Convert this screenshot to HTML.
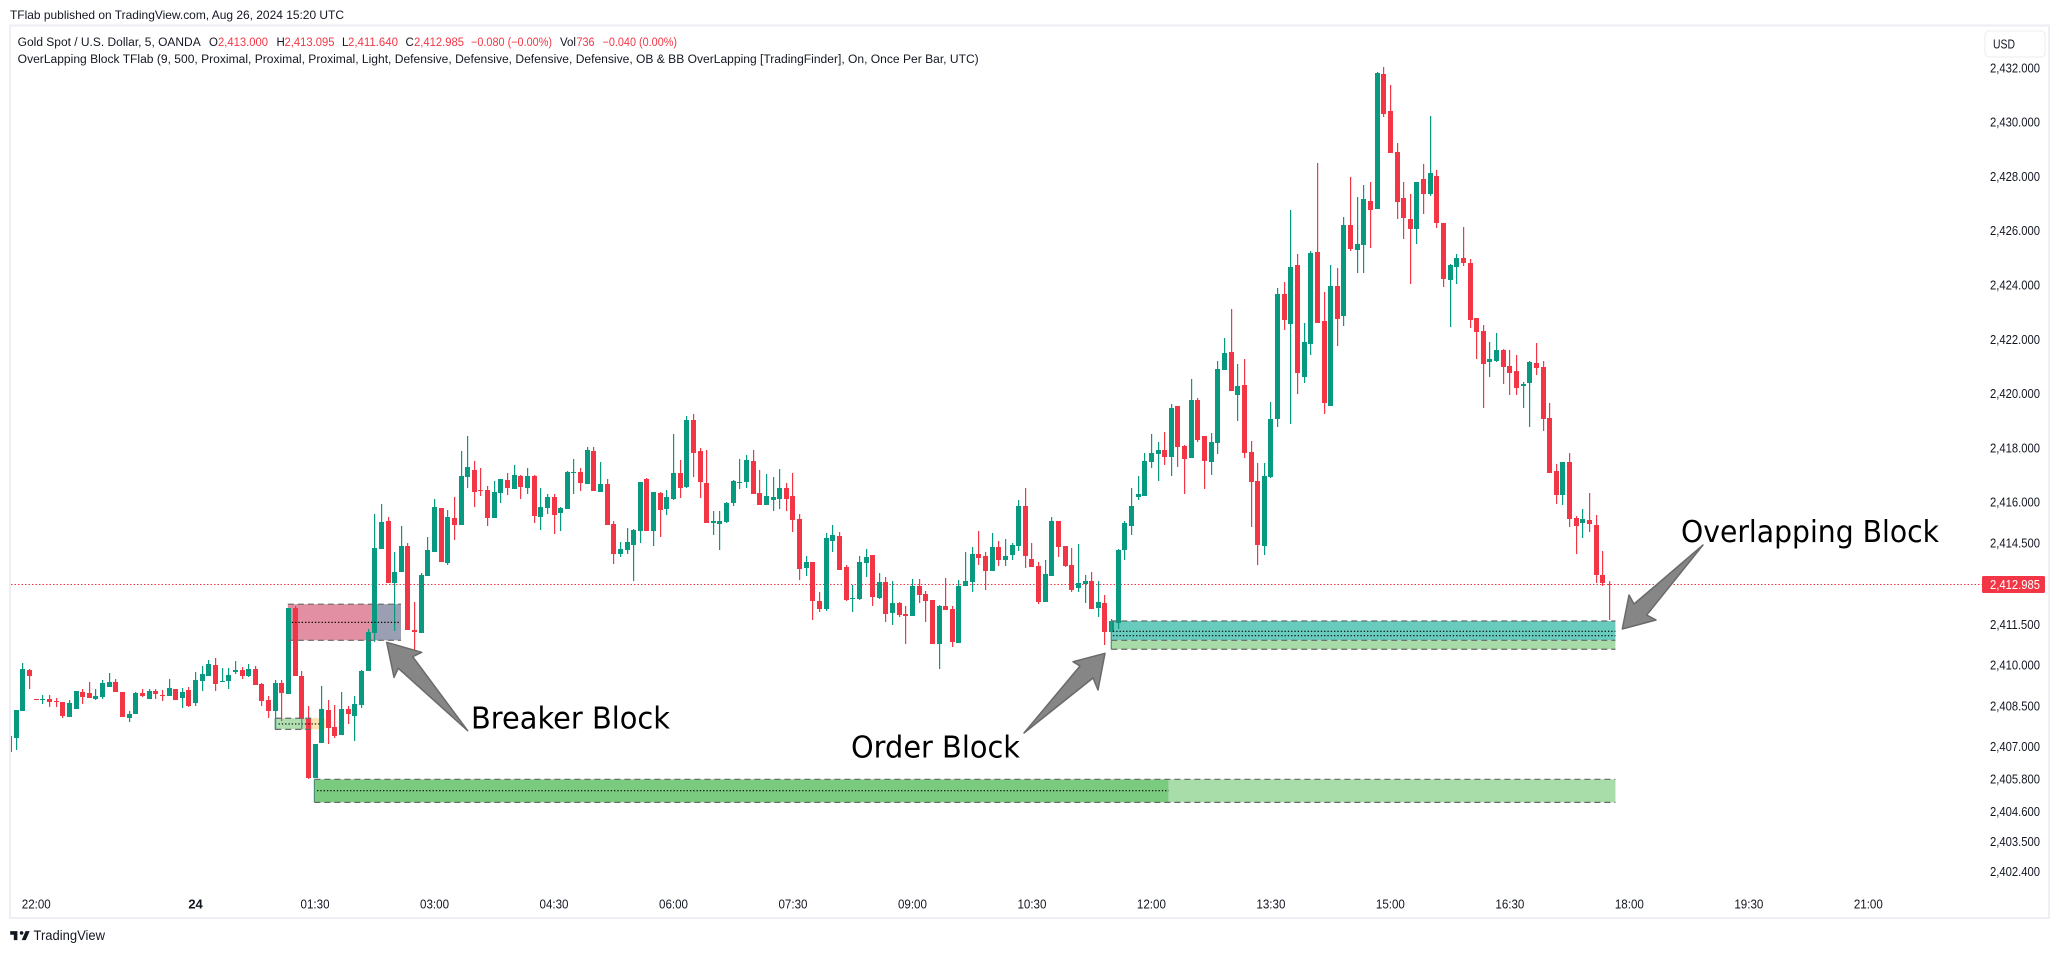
<!DOCTYPE html>
<html lang="en">
<head>
<meta charset="utf-8">
<title>Gold Spot 5m OverLapping Block chart</title>
<style>
html,body{margin:0;padding:0;background:#fff;width:2059px;height:953px;overflow:hidden}
svg{display:block}
text{font-family:"Liberation Sans",sans-serif;fill:#131722}
text.note{font-family:"DejaVu Sans","Liberation Sans",sans-serif;fill:#000000}
</style>
</head>
<body>
<svg id="chart" xmlns="http://www.w3.org/2000/svg" width="2059" height="953" viewBox="0 0 2059 953">
  <defs><clipPath id="plot-clip"><rect x="11" y="27" width="2037" height="890"/></clipPath></defs>
  <rect x="0" y="0" width="2059" height="953" fill="#ffffff"/>
  <rect x="10" y="25.5" width="2039" height="892.5" fill="#ffffff" stroke="#eeeef4" stroke-width="2"/>
  <text x="10" y="19" font-size="12" textLength="334" lengthAdjust="spacingAndGlyphs">TFlab published on TradingView.com, Aug 26, 2024 15:20 UTC</text>

  <g id="zones"></g>
  <line x1="11" y1="584.5" x2="1982" y2="584.5" stroke="#f23645" stroke-width="1" stroke-dasharray="1.5 2"/>
  <g id="candles" clip-path="url(#plot-clip)"></g>
  <g id="zone-lines"></g>

  <g font-size="11.5">
    <text x="17.7" y="46" font-size="11.5" textLength="183" lengthAdjust="spacingAndGlyphs">Gold Spot / U.S. Dollar, 5, OANDA</text>
    <text x="209" y="46" font-size="11.5">O</text>
    <text x="218" y="46" font-size="11.5" style="fill:#f23645" textLength="50" lengthAdjust="spacingAndGlyphs">2,413.000</text>
    <text x="276.5" y="46" font-size="11.5">H</text>
    <text x="284.5" y="46" font-size="11.5" style="fill:#f23645" textLength="50" lengthAdjust="spacingAndGlyphs">2,413.095</text>
    <text x="342" y="46" font-size="11.5">L</text>
    <text x="348" y="46" font-size="11.5" style="fill:#f23645" textLength="50" lengthAdjust="spacingAndGlyphs">2,411.640</text>
    <text x="405.5" y="46" font-size="11.5">C</text>
    <text x="414" y="46" font-size="11.5" style="fill:#f23645" textLength="50" lengthAdjust="spacingAndGlyphs">2,412.985</text>
    <text x="471" y="46" font-size="11.5" style="fill:#f23645" textLength="81" lengthAdjust="spacingAndGlyphs">−0.080 (−0.00%)</text>
    <text x="560" y="46" font-size="11.5" textLength="16" lengthAdjust="spacingAndGlyphs">Vol</text>
    <text x="576.5" y="46" font-size="11.5" style="fill:#f23645" textLength="18" lengthAdjust="spacingAndGlyphs">736</text>
    <text x="602.5" y="46" font-size="11.5" style="fill:#f23645" textLength="74.5" lengthAdjust="spacingAndGlyphs">−0.040 (0.00%)</text>
    <text x="17.7" y="63" font-size="11.5" textLength="961" lengthAdjust="spacingAndGlyphs">OverLapping Block TFlab (9, 500, Proximal, Proximal, Proximal, Light, Defensive, Defensive, Defensive, Defensive, OB &amp; BB OverLapping [TradingFinder], On, Once Per Bar, UTC)</text>
  </g>

  <g>
    <rect x="1985" y="31" width="60" height="26" rx="4" fill="#ffffff" stroke="#ececf1" stroke-width="1"/>
    <text x="1993" y="48.5" font-size="13" textLength="22" lengthAdjust="spacingAndGlyphs">USD</text>
  </g>

  <g id="y-axis"></g>
  <g id="x-axis"></g>

  <g>
    <rect x="1982" y="576" width="63" height="17" rx="1.5" fill="#f23645"/>
    <text x="1990" y="589" font-size="13" style="fill:#ffffff" textLength="50" lengthAdjust="spacingAndGlyphs">2,412.985</text>
  </g>

  <g>
    <polygon points="386.7,642.3 421.7,652.3 412.7,656.7 467.7,730.7 398.3,668.3 394,677.3" fill="#868686" stroke="#6a6a6a" stroke-width="1.5" stroke-linejoin="round"/>
    <polygon points="1105,653.3 1073,661.7 1080,666 1024,733 1093,678 1098,690" fill="#868686" stroke="#6a6a6a" stroke-width="1.5" stroke-linejoin="round"/>
    <polygon points="1622.3,629 1629,595 1634,604 1703,545 1646.7,615 1656,620" fill="#868686" stroke="#6a6a6a" stroke-width="1.5" stroke-linejoin="round"/>
    <text class="note" x="471" y="728.5" font-size="30" textLength="199" lengthAdjust="spacingAndGlyphs">Breaker Block</text>
    <text class="note" x="851" y="757.5" font-size="30" textLength="169" lengthAdjust="spacingAndGlyphs">Order Block</text>
    <text class="note" x="1681" y="542" font-size="30" textLength="258" lengthAdjust="spacingAndGlyphs">Overlapping Block</text>
  </g>

  <g>
    <path transform="translate(9,927.5) scale(0.6)" fill="#131722" d="M14 6H2v6h6v9h6V6zm14 15h-6.8l6.4-15h6.8L28 21zm-7-9a3 3 0 1 0 0-6 3 3 0 0 0 0 6z"/>
    <text x="33.5" y="940" font-size="13.5" textLength="71.5" lengthAdjust="spacingAndGlyphs">TradingView</text>
  </g>
</svg>

<script>
const opens = [
2406.80,2407.31,2408.31,2409.82,2408.75,2408.71,2408.75,2408.67,2408.64,2408.08,
2408.38,2409.01,2408.97,2408.75,2408.82,2409.19,2409.37,2409.01,2408.05,2408.20,
2408.97,2408.75,2409.04,2408.89,2408.86,2409.12,2408.78,2409.08,2408.60,2409.41,
2409.59,2410.00,2409.37,2409.41,2409.74,2409.82,2409.59,2409.85,2409.30,2408.71,
2408.31,2409.34,2408.93,2412.10,2409.59,2408.01,2405.84,2407.13,2408.34,2407.72,
2407.42,2408.38,2408.12,2408.53,2409.78,2411.18,2414.27,2415.30,2413.02,2413.43,
2414.38,2411.29,2411.18,2413.28,2414.16,2415.78,2413.76,2415.41,2415.16,2416.92,
2417.18,2416.45,2416.45,2415.41,2416.33,2416.81,2416.48,2416.96,2416.52,2416.96,
2415.45,2415.78,2416.19,2415.60,2415.75,2417.07,2417.11,2416.67,2417.88,2416.37,
2416.67,2415.19,2414.09,2414.24,2414.42,2414.93,2416.85,2414.93,2416.33,2415.75,
2416.11,2417.07,2416.56,2419.02,2417.88,2416.70,2415.23,2415.19,2415.27,2415.97,
2416.70,2416.74,2417.51,2416.33,2415.89,2416.08,2416.11,2416.52,2416.22,2415.38,
2413.57,2413.79,2412.36,2412.06,2414.57,2414.75,2413.61,2412.43,2412.43,2413.76,
2414.05,2412.47,2413.06,2411.91,2412.28,2411.88,2411.80,2412.91,2412.61,2412.39,
2410.77,2412.17,2412.06,2410.81,2412.91,2413.06,2414.09,2414.01,2413.46,2414.35,
2413.87,2414.05,2414.38,2415.86,2413.90,2413.65,2412.32,2413.28,2415.30,2414.38,
2413.68,2412.84,2412.98,2413.09,2412.10,2412.28,2411.21,2411.55,2414.24,2415.12,
2416.19,2416.22,2417.48,2417.77,2417.92,2417.66,2419.54,2418.07,2417.63,2419.76,
2418.44,2417.48,2418.18,2420.87,2421.53,2419.95,2420.31,2417.85,2416.78,2414.38,
2416.92,2419.06,2423.67,2422.56,2424.73,2420.61,2421.82,2425.21,2422.67,2419.54,
2423.96,2422.85,2426.21,2425.29,2425.47,2427.09,2426.80,2431.77,2430.40,2428.90,
2427.20,2426.43,2426.06,2427.90,2427.35,2428.01,2426.28,2424.18,2424.66,2424.99,
2424.81,2422.78,2422.30,2421.16,2421.21,2421.60,2421.01,2420.83,2420.28,2420.39,
2421.12,2420.98,2419.10,2417.14,2416.26,2417.48,2415.41,2415.23,2415.34,2415.16,
2413.32,2413.000];
const highs = [
2407.39,2408.34,2410.07,2409.85,2408.75,2408.89,2408.89,2408.77,2408.64,2408.71,
2409.04,2409.12,2409.37,2409.12,2409.45,2409.71,2409.48,2409.01,2408.31,2409.01,
2409.12,2409.12,2409.12,2409.08,2409.48,2409.12,2409.15,2409.19,2409.74,2409.96,
2410.18,2410.26,2409.89,2409.89,2410.15,2409.93,2410.04,2409.96,2409.34,2408.86,
2409.45,2409.45,2412.10,2412.17,2409.78,2408.49,2407.09,2409.23,2408.71,2408.53,
2409.01,2408.49,2408.86,2409.82,2411.33,2415.56,2415.93,2415.45,2414.16,2415.12,
2414.49,2412.32,2413.39,2414.71,2416.11,2415.78,2415.71,2416.19,2417.88,2418.43,
2417.51,2417.26,2416.59,2416.78,2416.84,2417.07,2417.37,2417.00,2417.26,2417.00,
2416.52,2416.30,2416.30,2415.82,2417.14,2417.59,2417.26,2418.03,2418.03,2417.48,
2416.85,2415.30,2414.53,2415.05,2415.01,2416.74,2416.89,2416.37,2416.37,2416.45,
2418.51,2417.55,2419.17,2419.24,2417.99,2417.92,2415.67,2415.67,2416.00,2416.81,
2417.59,2417.73,2417.92,2417.18,2417.03,2416.92,2417.22,2416.70,2417.07,2415.56,
2414.01,2413.79,2412.69,2414.86,2415.16,2414.90,2413.68,2412.95,2414.01,2414.27,
2414.05,2413.39,2413.24,2413.09,2412.32,2412.17,2413.17,2413.17,2412.73,2412.39,
2412.21,2413.20,2412.17,2413.13,2414.16,2414.35,2414.93,2414.16,2414.86,2414.57,
2414.64,2414.49,2416.08,2416.52,2414.49,2413.79,2413.87,2415.45,2415.30,2414.38,
2414.31,2414.46,2413.31,2413.43,2413.09,2412.58,2411.69,2414.27,2415.30,2416.52,
2416.96,2417.81,2418.51,2418.21,2418.58,2419.61,2419.54,2418.10,2420.53,2419.83,
2418.44,2418.55,2421.21,2422.06,2423.11,2421.09,2421.27,2418.25,2417.44,2417.44,
2419.69,2423.89,2424.11,2426.76,2425.14,2422.60,2425.25,2428.49,2423.74,2424.73,
2424.62,2426.50,2427.97,2427.24,2427.68,2427.79,2431.84,2432.03,2431.36,2429.23,
2427.79,2427.35,2427.79,2428.45,2430.22,2428.23,2426.28,2424.77,2425.14,2426.13,
2424.95,2422.78,2422.52,2421.90,2422.23,2421.64,2421.60,2421.42,2420.42,2421.21,
2421.86,2421.21,2419.65,2417.40,2417.48,2417.81,2415.49,2415.75,2416.34,2415.53,
2414.20,2413.095];
const lows = [
2406.80,2406.87,2408.31,2409.12,2408.72,2408.56,2408.45,2408.45,2408.05,2408.08,
2408.38,2408.56,2408.78,2408.71,2408.75,2409.19,2409.01,2408.08,2407.90,2408.20,
2408.82,2408.75,2408.75,2408.67,2408.86,2408.71,2408.42,2408.45,2408.49,2409.04,
2409.59,2409.04,2409.37,2409.12,2409.67,2409.48,2409.56,2409.26,2408.49,2408.05,
2407.61,2407.94,2408.93,2409.59,2408.01,2405.80,2405.84,2407.13,2407.09,2407.31,
2407.42,2407.83,2407.20,2408.42,2409.78,2410.85,2414.27,2413.02,2411.25,2413.43,
2411.29,2410.52,2411.18,2413.28,2414.16,2413.79,2413.68,2414.60,2415.16,2416.52,
2415.82,2416.22,2415.12,2415.41,2415.97,2416.26,2416.48,2416.11,2416.30,2415.23,
2414.97,2415.56,2414.82,2414.93,2415.75,2416.30,2416.41,2416.67,2416.41,2416.37,
2415.16,2413.72,2413.98,2414.09,2413.09,2414.49,2414.93,2414.38,2414.71,2415.52,
2416.08,2416.15,2416.52,2416.92,2416.15,2415.23,2414.79,2414.24,2415.23,2415.86,
2416.48,2416.52,2416.30,2415.89,2415.89,2415.67,2415.75,2415.67,2414.90,2413.13,
2413.28,2411.66,2411.95,2411.99,2414.16,2413.50,2412.36,2411.95,2412.39,2413.24,
2412.17,2412.43,2411.58,2411.47,2411.77,2410.77,2411.80,2412.28,2411.58,2410.77,
2409.85,2412.03,2410.66,2410.81,2412.91,2412.69,2413.68,2412.76,2413.46,2413.65,
2413.65,2413.87,2414.20,2413.57,2413.61,2412.25,2412.32,2413.28,2413.98,2413.61,
2412.69,2412.69,2412.28,2412.06,2411.77,2410.74,2411.21,2411.33,2413.87,2414.79,
2416.08,2416.22,2417.26,2416.78,2417.37,2416.96,2417.29,2416.30,2417.63,2418.21,
2416.48,2417.00,2417.77,2420.87,2420.09,2418.99,2417.63,2415.08,2413.68,2414.05,
2416.89,2418.77,2422.34,2418.88,2419.98,2420.39,2421.42,2422.60,2419.25,2419.54,
2421.75,2422.49,2425.25,2424.44,2424.44,2425.36,2426.80,2430.18,2428.86,2426.43,
2425.69,2424.03,2425.51,2426.61,2427.28,2426.10,2423.92,2422.45,2424.03,2424.70,
2422.41,2421.27,2419.47,2420.61,2421.16,2420.35,2419.95,2419.95,2419.47,2418.77,
2420.68,2418.62,2417.07,2415.93,2415.89,2415.08,2414.09,2414.68,2414.90,2413.02,
2412.91,2411.640];
const closes = [
2407.39,2408.34,2409.85,2409.59,2408.73,2408.75,2408.64,2408.64,2408.12,2408.60,
2409.04,2408.82,2408.78,2408.86,2409.34,2409.37,2409.01,2408.08,2408.20,2408.97,
2408.86,2409.04,2408.93,2408.86,2409.15,2408.71,2409.01,2408.49,2409.45,2409.67,
2410.04,2409.30,2409.41,2409.63,2409.82,2409.59,2409.85,2409.26,2408.67,2408.31,
2409.34,2408.97,2412.10,2409.59,2408.01,2405.84,2407.09,2408.38,2407.68,2407.39,
2408.38,2408.20,2408.56,2409.78,2411.21,2414.31,2415.27,2413.02,2413.43,2414.38,
2411.29,2411.21,2413.31,2414.24,2415.82,2413.79,2415.45,2415.16,2416.96,2417.29,
2416.37,2416.41,2415.41,2416.37,2416.84,2416.52,2417.00,2416.56,2416.96,2415.49,
2415.82,2416.19,2415.52,2415.78,2417.11,2417.11,2416.70,2417.92,2416.41,2416.67,
2415.16,2414.09,2414.27,2414.53,2414.97,2416.74,2414.93,2416.37,2415.71,2416.19,
2417.07,2416.52,2419.02,2417.81,2416.74,2415.23,2415.30,2415.30,2415.97,2416.78,
2416.74,2417.55,2416.30,2415.89,2416.22,2416.19,2416.52,2416.11,2415.34,2413.54,
2413.79,2412.36,2412.06,2414.68,2414.79,2413.50,2412.39,2412.47,2413.79,2413.98,
2412.50,2413.06,2411.88,2412.28,2411.84,2411.80,2412.91,2412.58,2412.36,2410.77,
2412.17,2412.03,2410.85,2412.91,2413.09,2414.09,2413.94,2413.46,2414.35,2413.87,
2414.01,2414.42,2415.86,2414.01,2413.61,2412.32,2413.35,2415.30,2414.35,2413.65,
2412.76,2413.02,2413.09,2412.06,2412.32,2411.21,2411.62,2414.24,2415.23,2415.86,
2416.30,2417.51,2417.81,2417.92,2417.66,2419.47,2418.03,2417.59,2419.76,2418.29,
2417.51,2418.21,2420.90,2421.49,2420.09,2420.28,2417.81,2416.74,2414.42,2416.96,
2419.06,2423.67,2422.71,2424.66,2420.76,2421.90,2425.18,2422.60,2419.65,2423.96,
2422.74,2426.21,2425.32,2425.51,2427.16,2426.76,2431.80,2430.30,2428.86,2427.05,
2426.46,2426.06,2427.79,2427.35,2428.12,2426.28,2424.22,2424.73,2424.99,2424.81,
2422.71,2422.27,2421.09,2421.27,2421.60,2420.98,2420.76,2420.20,2420.35,2421.16,
2420.94,2419.06,2417.07,2416.26,2417.48,2415.38,2415.12,2415.38,2415.19,2413.32,
2413.02,2412.985];

const yTickPrices = [2432,2430,2428,2426,2424,2422,2420,2418,2416,2414.5,2411.5,2410,2408.5,2407,2405.8,2404.6,2403.5,2402.4];
const xTickLabels = ["22:00","24","01:30","03:00","04:30","06:00","07:30","09:00","10:30","12:00","13:30","15:00","16:30","18:00","19:30","21:00"];
const xTickBars = [4,28,46,64,82,100,118,136,154,172,190,208,226,244,262,280];

const zoneNames = ["breaker-zone","breaker-overlap-zone","small-order-zone","small-order-overlap","small-pending-zone","long-order-zone","long-order-extension","overlap-teal-zone","overlap-green-zone"];
const zoneStartBars = [41.9,54.7,40,44,45.5,45.9,174.6,165.95,165.95];
const zoneEndBars = [54.7,58.95,44,45.5,47.5,174.6,241.9,241.9,241.9];
const zoneTopPrices = [2412.24,2412.24,2408.04,2408.04,2408.04,2405.79,2405.79,2411.62,2410.91];
const zoneBottomPrices = [2410.91,2410.91,2407.63,2407.63,2407.63,2404.94,2404.94,2410.91,2410.58];
const zoneFills = ["#e28fa3","#9a9fb3","#b1dfb2","#b1dfb2","#fbe4b2","#7aca7f","#a8dca9","#68cbbd","#a7dba8"];

const dashedPrices = [2412.24,2410.91,2408.04,2407.63,2405.79,2404.94,2411.62,2410.91,2410.58];
const dashedStartBars = [41.9,41.9,40,40,45.9,45.9,165.95,165.95,165.95];
const dashedEndBars = [58.95,58.95,45.5,45.5,241.9,241.9,241.9,241.9,241.9];

const dottedPrices = [2411.57,2407.83,2405.37,2411.24,2411.08];
const dottedStartBars = [42.5,40.5,46.3,166.2,166.2];
const dottedEndBars = [58.7,46.8,174.6,241.9,241.9];

const edgeBars = [40,44,45.9,165.95];
const edgeTopPrices = [2408.04,2408.04,2405.79,2411.62];
const edgeBottomPrices = [2407.63,2407.63,2404.94,2410.58];

const NS = "http://www.w3.org/2000/svg";
function xScale(i){ return 9.7 + 6.638 * i; }
function yScale(p){ return 67.7 + (2432 - p) * 27.15; }
function mk(tag, attrs, parent){
  const el = document.createElementNS(NS, tag);
  for (const k in attrs) el.setAttribute(k, attrs[k]);
  parent.appendChild(el);
  return el;
}
function fmtPrice(p){
  return p.toLocaleString("en-US",{minimumFractionDigits:3,maximumFractionDigits:3});
}

const zonesG = document.getElementById("zones");
zoneNames.forEach(function(name,i){
  const x1 = xScale(zoneStartBars[i]), x2 = xScale(zoneEndBars[i]);
  const y1 = yScale(zoneTopPrices[i]), y2 = yScale(zoneBottomPrices[i]);
  const el = mk("rect",{x:x1,y:y1,width:x2-x1,height:y2-y1,fill:zoneFills[i]},zonesG);
  
  
});

const candlesG = document.getElementById("candles");
closes.forEach(function(c,i){
  const o = opens[i], color = c >= o ? "#089981" : "#f23645";
  const px = Math.floor(xScale(i));
  const g = mk("g",{},candlesG);
  
  
  const yH = Math.round(yScale(highs[i])), yL = Math.round(yScale(lows[i]));
  const wick = mk("rect",{x:px,y:yH,width:1.2,height:Math.max(1,yL-yH),fill:color},g);
  
  
  const yT = Math.round(yScale(Math.max(o,c))), yB = Math.round(yScale(Math.min(o,c)));
  const body = mk("rect",{x:px-2,y:yT,width:5,height:Math.max(1,yB-yT),fill:color},g);
  
  
});

const linesG = document.getElementById("zone-lines");
dashedPrices.forEach(function(p,i){
  const y = yScale(p);
  const el = mk("line",{x1:xScale(dashedStartBars[i]),x2:xScale(dashedEndBars[i]),y1:y,y2:y,stroke:"#676767","stroke-width":1.2,"stroke-dasharray":"6 4"},linesG);
  
  
});
dottedPrices.forEach(function(p,i){
  const y = yScale(p);
  const el = mk("line",{x1:xScale(dottedStartBars[i]),x2:xScale(dottedEndBars[i]),y1:y,y2:y,stroke:"#000000","stroke-width":1.2,"stroke-dasharray":"1.3 2"},linesG);
  
  
});
edgeBars.forEach(function(b,i){
  const x = xScale(b);
  const el = mk("line",{x1:x,x2:x,y1:yScale(edgeTopPrices[i]),y2:yScale(edgeBottomPrices[i]),stroke:"#4f8f74","stroke-width":1.2},linesG);
  
  
});

const yAxisG = document.getElementById("y-axis");
yTickPrices.forEach(function(p){
  const t = mk("text",{x:1990,y:yScale(p)+4.6,"font-size":13,textLength:50,lengthAdjust:"spacingAndGlyphs"},yAxisG);
  
  
  t.textContent = fmtPrice(p);
});

const xAxisG = document.getElementById("x-axis");
xTickLabels.forEach(function(label,i){
  const isDay = label.length < 3;
  const t = mk("text",{x:xScale(xTickBars[i]),y:908.5,"font-size":13,"text-anchor":"middle"},xAxisG);
  if (isDay) t.setAttribute("font-weight","bold");
  else { t.setAttribute("textLength",29); t.setAttribute("lengthAdjust","spacingAndGlyphs"); }
  
  
  t.textContent = label;
});
</script>
</body>
</html>
